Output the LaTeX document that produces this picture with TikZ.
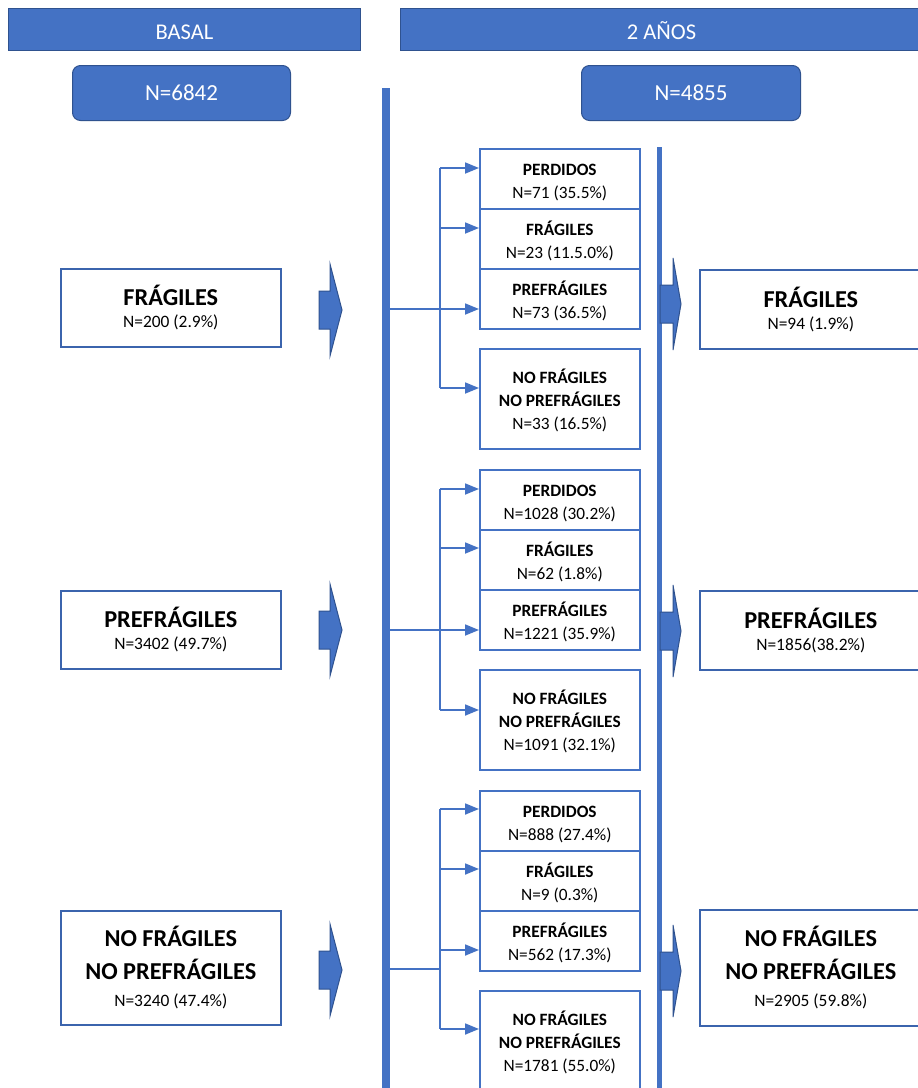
\documentclass[tikz,border=0pt]{standalone}
\usepackage{fontspec}
\setmainfont{Carlito}
\usetikzlibrary{arrows.meta}
\definecolor{bl}{HTML}{4472C4}
\definecolor{dbl}{HTML}{2F528F}
\definecolor{mbx}{HTML}{3B64AD}
\newcommand{\subtxt}[2]{\rule{0pt}{20pt}{\bfseries #1}\\#2\rule[-4pt]{0pt}{4pt}}
\newcommand{\titlefont}{\fontsize{24.3}{28}\selectfont\bfseries}
\newcommand{\maintxt}[2]{\rule{0pt}{22pt}{\titlefont #1}\\#2\rule[-4.5pt]{0pt}{4.5pt}}
\newcommand{\blockarrow}[4]{%
  \draw[barrow] (#1,#4-19) -- (#2,#4-19) -- (#2,#4-46) -- (#3,#4) -- (#2,#4+46) -- (#2,#4+19) -- (#1,#4+19) -- cycle;}
\begin{document}
\begin{tikzpicture}[x=1pt,y=-1pt,
  hdr/.style={draw=dbl, line width=1pt, fill=bl, text=white, font=\fontsize{22.5}{26}\selectfont, anchor=north west, inner sep=0pt, text height=20pt, text depth=0pt},
  nbox/.style={hdr, rounded corners=8pt, font=\fontsize{23}{26}\selectfont, text height=15pt},
  mainbox/.style={draw=mbx, line width=1.6pt, fill=white, align=center, font=\fontsize{17.4}{22}\selectfont, inner sep=0pt, anchor=north west},
  subbox/.style={draw=bl, line width=1.6pt, fill=white, align=center, font=\fontsize{17.3}{23}\selectfont, inner sep=0pt, anchor=north west, minimum width=160pt},
  spine/.style={draw=bl, line width=#1},
  lin/.style={draw=bl, line width=1.8pt},
  conn/.style={lin, -{Triangle[length=14pt,width=11pt]}},
  barrow/.style={fill=bl, draw=dbl, line width=1pt, line join=miter}
]
\clip (0,0) rectangle (918,1088);
\fill[white] (0,0) rectangle (918,1088);

% headers
\node[hdr, minimum width=352pt, minimum height=42pt] (basal) at (8,8) {BASAL};
\node[hdr, minimum width=522pt, minimum height=42pt] (anos) at (400,8) {2 AÑOS};
\node[nbox, minimum width=218pt, minimum height=55pt] (n0) at (72,65) {N=6842};
\node[nbox, minimum width=219pt, minimum height=55pt] (n2) at (581,65) {N=4855};

% vertical lines
\coordinate (Ltop) at (386,88);
\coordinate (Lbot) at (386,1095);
\coordinate (Rtop) at (659.5,147);
\coordinate (Rbot) at (659.5,1095);
\draw[spine=8pt] (Ltop) -- (Lbot);
\draw[spine=5pt] (Rtop) -- (Rbot);

% left boxes
\node[mainbox, minimum width=220pt, minimum height=78pt] (b1) at (60,268) {\maintxt{FRÁGILES}{N=200 (2.9\%)}};
\node[mainbox, minimum width=220pt, minimum height=78pt] (b2) at (60,590) {\maintxt{PREFRÁGILES}{N=3402 (49.7\%)}};
\node[mainbox, minimum width=220pt, minimum height=114pt] (b3) at (60,910) {\rule{0pt}{22pt}{\titlefont NO FRÁGILES}\\[11pt]{\titlefont NO PREFRÁGILES}\\[5pt]N=3240 (47.4\%)\rule[-4.5pt]{0pt}{4.5pt}};

% right boxes
\node[mainbox, minimum width=222pt, minimum height=79pt] (r1) at (699,269) {\maintxt{FRÁGILES}{N=94 (1.9\%)}};
\node[mainbox, minimum width=222pt, minimum height=79pt] (r2) at (699,590) {\maintxt{PREFRÁGILES}{N=1856(38.2\%)}};
\node[mainbox, minimum width=222pt, minimum height=116pt] (r3) at (699,909) {\rule{0pt}{22pt}{\titlefont NO FRÁGILES}\\[11pt]{\titlefont NO PREFRÁGILES}\\[5pt]N=2905 (59.8\%)\rule[-4.5pt]{0pt}{4.5pt}};

% block arrows
\blockarrow{319}{330}{342}{310}
\blockarrow{319}{330}{342}{630}
\blockarrow{319}{330}{342}{970}
\blockarrow{660}{673}{681}{304}
\blockarrow{660}{673}{681}{631}
\blockarrow{660}{673}{681}{971}

% group 1 sub boxes
\node[subbox, minimum height=60pt] (g1a) at (479,148) {\subtxt{PERDIDOS}{N=71 (35.5\%)}};
\node[subbox, minimum height=60pt] (g1b) at (479,208) {\subtxt{FRÁGILES}{N=23 (11.5.0\%)}};
\node[subbox, minimum height=60pt] (g1c) at (479,268) {\subtxt{PREFRÁGILES}{N=73 (36.5\%)}};
\node[subbox, minimum height=100pt] (g1d) at (479,348) {\subtxt{NO FRÁGILES}{{\bfseries NO PREFRÁGILES}\\N=33 (16.5\%)}};

% group 2 sub boxes
\node[subbox, minimum height=60pt] (g2a) at (479,469) {\subtxt{PERDIDOS}{N=1028 (30.2\%)}};
\node[subbox, minimum height=60pt] (g2b) at (479,529) {\subtxt{FRÁGILES}{N=62 (1.8\%)}};
\node[subbox, minimum height=60pt] (g2c) at (479,589) {\subtxt{PREFRÁGILES}{N=1221 (35.9\%)}};
\node[subbox, minimum height=100pt] (g2d) at (479,669) {\subtxt{NO FRÁGILES}{{\bfseries NO PREFRÁGILES}\\N=1091 (32.1\%)}};

% group 3 sub boxes
\node[subbox, minimum height=60pt] (g3a) at (479,790) {\subtxt{PERDIDOS}{N=888 (27.4\%)}};
\node[subbox, minimum height=60pt] (g3b) at (479,850) {\subtxt{FRÁGILES}{N=9 (0.3\%)}};
\node[subbox, minimum height=60pt] (g3c) at (479,910) {\subtxt{PREFRÁGILES}{N=562 (17.3\%)}};
\node[subbox, minimum height=100pt] (g3d) at (479,990) {\subtxt{NO FRÁGILES}{{\bfseries NO PREFRÁGILES}\\N=1781 (55.0\%)}};

% group 1 connectors
\coordinate (s1) at (390,309);
\coordinate (t1a) at (440,168);
\coordinate (t1b) at (440,228);
\coordinate (t1d) at (440,388);
\draw[lin] (t1a) -- (t1d);
\draw[conn] (s1) -- (g1c.west |- s1);
\draw[conn] (t1a) -- (g1a.west |- t1a);
\draw[conn] (t1b) -- (g1b.west |- t1b);
\draw[conn] (t1d) -- (g1d.west |- t1d);

% group 2 connectors
\coordinate (s2) at (390,630);
\coordinate (t2a) at (440,489);
\coordinate (t2b) at (440,548);
\coordinate (t2d) at (440,710);
\draw[lin] (t2a) -- (t2d);
\draw[conn] (s2) -- (g2c.west |- s2);
\draw[conn] (t2a) -- (g2a.west |- t2a);
\draw[conn] (t2b) -- (g2b.west |- t2b);
\draw[conn] (t2d) -- (g2d.west |- t2d);

% group 3 connectors
\coordinate (s3) at (390,969);
\coordinate (j3) at (441,969);
\coordinate (t3a) at (440,809);
\coordinate (t3b) at (440,869);
\coordinate (t3c) at (440,950);
\coordinate (t3d) at (440,1029);
\draw[lin] (t3a) -- (t3d);
\draw[lin] (s3) -- (j3);
\draw[conn] (t3a) -- (g3a.west |- t3a);
\draw[conn] (t3b) -- (g3b.west |- t3b);
\draw[conn] (t3c) -- (g3c.west |- t3c);
\draw[conn] (t3d) -- (g3d.west |- t3d);
\end{tikzpicture}
\end{document}
